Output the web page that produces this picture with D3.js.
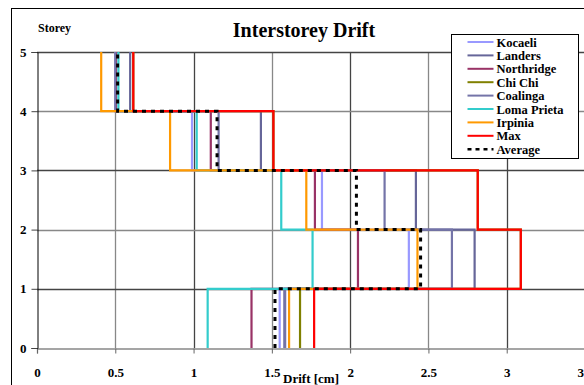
<!DOCTYPE html>
<html>
<head>
<meta charset="utf-8">
<script src="https://cdn.jsdelivr.net/npm/d3@7"></script>
<style>
body { margin: 0; background: #fff; }
svg { display: block; font-family: "Liberation Serif", "Times New Roman", serif; font-weight: bold; }
</style>
</head>
<body>
<div id="container-svg"></div>
<script>
// Drift per storey segment (storey 0-1, 1-2, 2-3, 3-4, 4-5), cm
const storeys = [0, 1, 2, 3, 4, 5]
const xTicks = [0, 0.5, 1, 1.5, 2, 2.5, 3, 3.5]
const kocaeli = [1.55, 2.375, 1.82, 0.99, 0.50]
const landers = [1.58, 2.795, 2.42, 1.43, 0.595]
const northridge = [1.37, 2.05, 1.775, 1.11, 0.505]
const chiChi = [1.68, 3.09, 2.815, 1.51, 0.615]
const coalinga = [1.585, 2.65, 2.22, 1.16, 0.50]
const lomaPrieta = [1.09, 1.76, 1.56, 1.02, 0.52]
const irpinia = [1.61, 2.43, 1.72, 0.85, 0.41]
const maxDrift = [1.77, 3.09, 2.815, 1.51, 0.615]
const average = [1.52, 2.45, 2.04, 1.15, 0.515]

const seriesNames = ["Kocaeli", "Landers", "Northridge", "Chi Chi", "Coalinga", "Loma Prieta", "Irpinia", "Max", "Average"]
const seriesValues = [kocaeli, landers, northridge, chiChi, coalinga, lomaPrieta, irpinia, maxDrift, average]
const seriesColors = ["#9999ff", "#666699", "#993366", "#808000", "#7474a8", "#33cccc", "#ff9900", "#ff0000", "#000000"]

const width = 584
const height = 385

const svg = d3.select("div#container-svg")
    .append("svg")
    .attr("width", width)
    .attr("height", height)

const x = d3.scaleLinear().domain([0, 3.5]).range([37, 585])
const y = d3.scaleLinear().domain([0, 5]).range([348, 52])

// outer chart border (runs off the right and bottom)
svg.append("rect")
    .attr("x", 11.5).attr("y", 8.5)
    .attr("width", 620).attr("height", 400)
    .attr("fill", "#fff").attr("stroke", "#000")

// Gridlines
svg.append("g").selectAll("line")
    .data(xTicks.slice(1))
    .join("line")
    .attr("x1", d => Math.round(x(d)) + 0.5).attr("x2", d => Math.round(x(d)) + 0.5)
    .attr("y1", y(5)).attr("y2", y(0))
    .attr("stroke", (d, i) => i % 2 ? "#444" : "#888")
    .attr("stroke-width", 1.3)

svg.append("g").selectAll("line")
    .data(storeys.slice(1))
    .join("line")
    .attr("x1", x(0)).attr("x2", x(3.5))
    .attr("y1", d => Math.round(y(d)) + 0.5).attr("y2", d => Math.round(y(d)) + 0.5)
    .attr("stroke", (d, i) => i % 2 ? "#888" : "#444")
    .attr("stroke-width", 1.3)

// Axes
const xAxis = svg.append("g")
    .attr("transform", "translate(0," + (Math.round(y(0)) + 0.5) + ")")
    .call(d3.axisBottom(x).tickValues(xTicks).tickSize(5).tickPadding(14).tickFormat(d3.format("")))
xAxis.select(".domain").attr("stroke", "#888").attr("stroke-width", 1.3)
xAxis.selectAll(".tick line").attr("stroke", "#666")
xAxis.selectAll("text").attr("font-size", 13).attr("font-family", "Liberation Serif").attr("font-weight", "bold").attr("fill", "#000")

const yAxis = svg.append("g")
    .attr("transform", "translate(" + (Math.round(x(0)) + 0.5) + ",0)")
    .call(d3.axisLeft(y).tickValues(storeys).tickSize(6).tickPadding(5).tickFormat(d3.format("d")))
yAxis.select(".domain").attr("stroke", "#000")
yAxis.selectAll(".tick line").attr("stroke", "#444")
yAxis.selectAll("text").attr("font-size", 13).attr("font-family", "Liberation Serif").attr("font-weight", "bold").attr("fill", "#000")

// Step lines
const stepPoints = function(vals) {
    let pts = []
    vals.forEach(function(v, i) {
        pts.push([v, storeys[i]])
        pts.push([v, storeys[i + 1]])
    })
    return pts
}
const line = d3.line().x(d => x(d[0])).y(d => y(d[1]))

svg.append("g").selectAll("path")
    .data(seriesValues)
    .join("path")
    .attr("d", d => line(stepPoints(d)))
    .attr("fill", "none")
    .attr("stroke", (d, i) => seriesColors[i])
    .attr("stroke-width", (d, i) => i === 8 ? 3 : 2.2)
    .attr("stroke-dasharray", (d, i) => i === 8 ? "4,5" : null)

// Title and labels
svg.append("text")
    .attr("x", 304).attr("y", 37)
    .attr("text-anchor", "middle")
    .attr("font-size", 20)
    .text("Interstorey Drift")

svg.append("text")
    .attr("x", 38).attr("y", 32)
    .attr("font-size", 12)
    .text("Storey")

svg.append("text")
    .attr("x", 311).attr("y", 383)
    .attr("text-anchor", "middle")
    .attr("font-size", 13)
    .text("Drift [cm]")

// Legend
const legend = svg.append("g").attr("transform", "translate(451.5,34.5)")
legend.append("rect")
    .attr("width", 127).attr("height", 124)
    .attr("fill", "#fff").attr("stroke", "#000")

const items = legend.selectAll("g.item")
    .data(seriesNames)
    .join("g")
    .attr("class", "item")
    .attr("transform", (d, i) => "translate(0," + (7.5 + i * 13.4) + ")")
items.append("line")
    .attr("x1", 16).attr("x2", 42)
    .attr("stroke", (d, i) => seriesColors[i])
    .attr("stroke-width", (d, i) => i === 8 ? 2.5 : 2)
    .attr("stroke-dasharray", (d, i) => i === 8 ? "4,4" : null)
items.append("text")
    .attr("x", 45).attr("y", 4.5)
    .attr("font-size", 12.5)
    .text(d => d)
</script>
</body>
</html>
